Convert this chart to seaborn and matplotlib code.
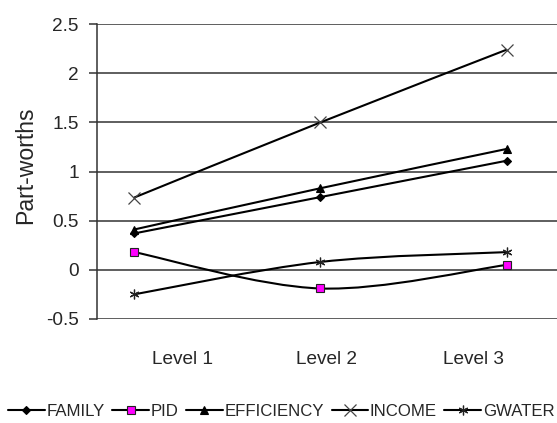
import numpy as np
import pandas as pd
import matplotlib
matplotlib.use("Agg")
import matplotlib.pyplot as plt
from matplotlib import font_manager
from matplotlib.path import Path
from matplotlib.patches import PathPatch
from matplotlib.lines import Line2D
import seaborn as sns

# Dati
livelli = ["Level 1", "Level 2", "Level 3"]
family = [0.37, 0.74, 1.11]
pid = [0.18, -0.19, 0.05]
efficiency = [0.41, 0.83, 1.23]
income = [0.735, 1.50, 2.24]
gwater = [-0.25, 0.08, 0.18]
serie = ["FAMILY", "PID", "EFFICIENCY", "INCOME", "GWATER"]
valori = [family, pid, efficiency, income, gwater]

df = pd.DataFrame({
    "Livello": livelli * len(serie),
    "Serie": np.repeat(serie, len(livelli)),
    "Valore": np.concatenate(valori),
})

# Stile dei marker (come in Excel)
stili = {
    "FAMILY": dict(marker="D", ms=4.5, mfc="black", mec="black", mew=0.8),
    "PID": dict(marker="s", ms=5.5, mfc="#ff00ff", mec="#222222", mew=0.8),
    "EFFICIENCY": dict(marker="^", ms=5.5, mfc="black", mec="black", mew=0.8),
    "INCOME": dict(marker="x", ms=9, mfc="none", mec="#444444", mew=0.9),
    "GWATER": dict(marker=(6, 2, 0), ms=7, mfc="none", mec="#222222", mew=0.9),
}

sns.set_style("white")

# Il testo del grafico originale è un sans stretto: uso la versione Narrow se c'è
nomi_font = {f.name for f in font_manager.fontManager.ttflist}
if "Liberation Sans Narrow" in nomi_font:
    plt.rcParams["font.family"] = ["Liberation Sans Narrow", "DejaVu Sans"]
    scala = 1.0
else:
    plt.rcParams["font.family"] = ["Liberation Sans", "DejaVu Sans"]
    scala = 0.83

fig = plt.figure(figsize=(5.57, 4.23), dpi=100)
ax = fig.add_axes([0.174, 0.246, 0.826, 0.697])

# Linee smussate (curva di Bezier sui punti, come "smoothed line" di Excel)
def curva(y):
    x = np.arange(len(y), dtype=float)
    p = np.column_stack([x, y])
    n = len(p)
    verts = [p[0]]
    codes = [Path.MOVETO]
    for i in range(n - 1):
        prev = p[max(i - 1, 0)]
        nxt = p[min(i + 2, n - 1)]
        c1 = p[i] + (p[i + 1] - prev) / 6
        c2 = p[i + 1] - (nxt - p[i]) / 6
        verts += [c1, c2, p[i + 1]]
        codes += [Path.CURVE4] * 3
    return Path(verts, codes)

for nome, y in zip(serie, valori):
    ax.add_patch(PathPatch(curva(y), fill=False, edgecolor="black", lw=1.5, zorder=3))

# Marker con seaborn
for nome in serie:
    s = stili[nome]
    sns.lineplot(
        data=df[df["Serie"] == nome],
        x="Livello",
        y="Valore",
        marker=s["marker"],
        markersize=s["ms"],
        markerfacecolor=s["mfc"],
        markeredgecolor=s["mec"],
        markeredgewidth=s["mew"],
        linestyle="none",
        color="black",
        ax=ax,
        zorder=4,
    )

ax.set_xlim(-0.2, 2.27)
ax.set_ylim(-0.5, 2.5)
ax.set_yticks(np.arange(-0.5, 2.51, 0.5))
ax.set_yticklabels(["-0.5", "0", "0.5", "1", "1.5", "2", "2.5"])
# nell'originale le etichette dei livelli non sono centrate sui punti
ax.set_xticks([0.26, 1.03, 1.82])
ax.set_xticklabels(livelli)
ax.yaxis.grid(True, color="#333333", lw=1.1)
ax.set_axisbelow(True)
for lato in ["top", "right", "bottom"]:
    ax.spines[lato].set_visible(False)
ax.spines["left"].set_color("#333333")
ax.spines["left"].set_linewidth(1.1)
ax.tick_params(axis="y", length=6, width=1.1, color="#333333", left=True,
               labelsize=16.5 * scala, pad=7)
ax.tick_params(axis="x", length=0, labelsize=16.5 * scala, pad=23)
ax.set_xlabel("")
ax.set_ylabel("Part-worths", fontsize=20 * scala, labelpad=6)
ax.yaxis.set_label_coords(-0.13, 0.52)

maniglie = [
    Line2D([0], [0], color="black", lw=1.5, marker=stili[n]["marker"],
           markersize=stili[n]["ms"], markerfacecolor=stili[n]["mfc"],
           markeredgecolor=stili[n]["mec"], markeredgewidth=stili[n]["mew"])
    for n in serie
]
fig.legend(maniglie, serie, loc="center", bbox_to_anchor=(0.505, 0.028), ncol=5,
           frameon=False, fontsize=14.5 * scala, handlelength=2.2, handletextpad=0.1,
           columnspacing=0.45, borderaxespad=0, borderpad=0)

fig.savefig("out.png", dpi=100)
